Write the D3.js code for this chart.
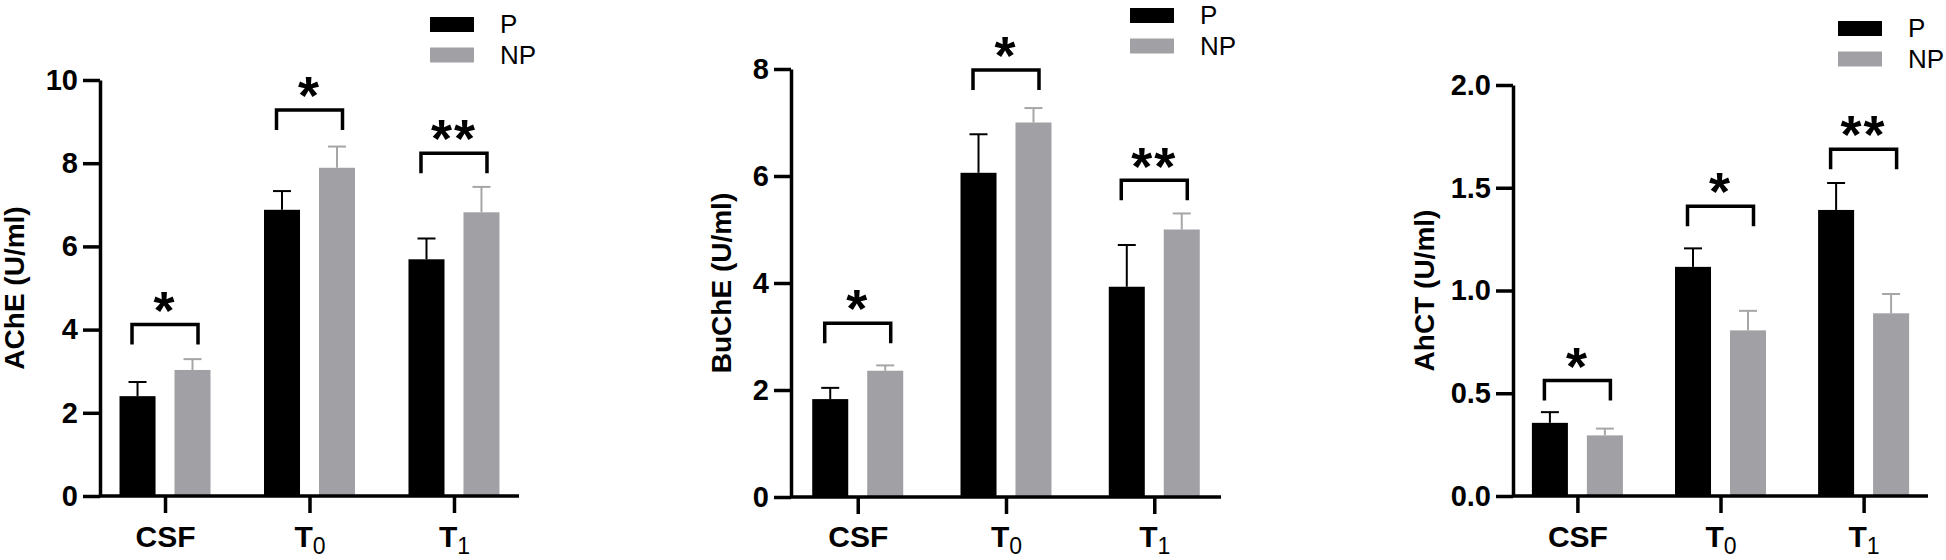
<!DOCTYPE html>
<html>
<head>
<meta charset="utf-8">
<script src="https://cdn.jsdelivr.net/npm/d3@7/dist/d3.min.js"></script>
<style>
  html, body { margin: 0; padding: 0; background: #fff; }
  svg { display: block; }
  text { font-family: "Liberation Sans", Arial, Helvetica, sans-serif; }
</style>
</head>
<body>
<svg id="chart" width="1946" height="560"></svg>
<script>
// ---------------- data ----------------
const categories = ["CSF", "T0", "T1"];
const categoryMain = ["CSF", "T", "T"];
const categorySub = ["", "0", "1"];
const groups = ["P", "NP"];

const acheP = [2.40, 6.88, 5.69];
const acheNP = [3.03, 7.89, 6.82];
const acheSemP = [0.34, 0.45, 0.50];
const acheSemNP = [0.26, 0.51, 0.61];
const acheBracket = [4.12, 9.28, 8.24];

const bucheP = [1.83, 6.06, 3.93];
const bucheNP = [2.36, 7.00, 5.00];
const bucheSemP = [0.21, 0.72, 0.78];
const bucheSemNP = [0.10, 0.27, 0.30];
const bucheBracket = [3.25, 7.98, 5.92];

const ahctP = [0.356, 1.115, 1.392];
const ahctNP = [0.295, 0.806, 0.889];
const ahctSemP = [0.052, 0.090, 0.131];
const ahctSemNP = [0.033, 0.095, 0.094];
const ahctBracket = [0.5625, 1.41, 1.6875];

const stars = ["*", "*", "**"];

const acheTicks = [0, 2, 4, 6, 8, 10];
const bucheTicks = [0, 2, 4, 6, 8];
const ahctTicks = [0, 0.5, 1.0, 1.5, 2.0];

// ---------------- layout ----------------
const colors = { P: "#000000", NP: "#a1a1a5" };
const errColors = { P: "#000000", NP: "#a6a6a9" };

const panels = [
  { title: "AChE (U/ml)", P: acheP, NP: acheNP, semP: acheSemP, semNP: acheSemNP,
    bracket: acheBracket, ticks: acheTicks, fmt: d3.format("d"),
    x0: 100, x1: 519, y0: 496, y1: 80, titleX: 24,
    legX: 430, legY: 33 },
  { title: "BuChE (U/ml)", P: bucheP, NP: bucheNP, semP: bucheSemP, semNP: bucheSemNP,
    bracket: bucheBracket, ticks: bucheTicks, fmt: d3.format("d"),
    x0: 791, x1: 1221, y0: 497, y1: 69, titleX: 731,
    legX: 1130, legY: 24 },
  { title: "AhCT (U/ml)", P: ahctP, NP: ahctNP, semP: ahctSemP, semNP: ahctSemNP,
    bracket: ahctBracket, ticks: ahctTicks, fmt: d3.format(".1f"),
    x0: 1513, x1: 1928, y0: 496, y1: 85, titleX: 1434,
    legX: 1838, legY: 37 }
];

const svg = d3.select("#chart");
svg.append("rect").attr("width", 1946).attr("height", 560).attr("fill", "#fff");

const AXW = 3.5;
const TICK = 17;

panels.forEach(p => {
  const g = svg.append("g");
  const yMax = p.ticks[p.ticks.length - 1];
  const y = d3.scaleLinear().domain([0, yMax]).range([p.y0, p.y1]);
  const x = d3.scalePoint().domain(categories).range([p.x0, p.x1]).padding(0.45);
  const inner = d3.scaleBand().domain(groups).range([-45.5, 45.5]).paddingInner(0.345);

  // bars
  groups.forEach(grp => {
    const vals = grp === "P" ? p.P : p.NP;
    const sems = grp === "P" ? p.semP : p.semNP;
    const cx = (i) => x(categories[i]) + inner(grp) + inner.bandwidth() / 2;
    g.selectAll(null).data(vals).enter().append("rect")
      .attr("x", (d, i) => x(categories[i]) + inner(grp))
      .attr("width", inner.bandwidth())
      .attr("y", d => y(d))
      .attr("height", d => y(0) - y(d))
      .attr("fill", colors[grp]);
    // error bars (upper only)
    g.selectAll(null).data(vals).enter().append("line")
      .attr("x1", (d, i) => cx(i)).attr("x2", (d, i) => cx(i))
      .attr("y1", d => y(d)).attr("y2", (d, i) => y(d + sems[i]))
      .attr("stroke", errColors[grp]).attr("stroke-width", 2);
    g.selectAll(null).data(vals).enter().append("line")
      .attr("x1", (d, i) => cx(i) - 9).attr("x2", (d, i) => cx(i) + 9)
      .attr("y1", (d, i) => y(d + sems[i])).attr("y2", (d, i) => y(d + sems[i]))
      .attr("stroke", errColors[grp]).attr("stroke-width", 2);
  });

  // y axis
  const yAxis = d3.axisLeft(y).tickValues(p.ticks).tickFormat(p.fmt)
    .tickSize(TICK).tickSizeOuter(0).tickPadding(5);
  const ya = g.append("g").attr("transform", `translate(${p.x0},0)`).call(yAxis);
  ya.select(".domain").attr("stroke-width", AXW).attr("stroke", "#000");
  ya.selectAll(".tick line").attr("stroke-width", AXW).attr("stroke", "#000");
  ya.selectAll(".tick text").attr("font-size", 29).attr("font-weight", "bold")
    .attr("fill", "#000").attr("font-family", '"Liberation Sans", Arial, sans-serif');

  // x axis
  const xAxis = d3.axisBottom(x).tickSize(TICK).tickSizeOuter(0).tickFormat("");
  const xa = g.append("g").attr("transform", `translate(0,${y(0)})`).call(xAxis);
  xa.select(".domain").attr("stroke-width", AXW).attr("stroke", "#000")
    .attr("d", `M${p.x0},0H${p.x1}`);
  xa.selectAll(".tick line").attr("stroke-width", AXW).attr("stroke", "#000");
  xa.selectAll(".tick text").remove();
  xa.selectAll(".tick").each(function(d, i) {
    const t = d3.select(this).append("text")
      .attr("y", 547 - y(0)).attr("text-anchor", "middle")
      .attr("fill", "#000").attr("font-family", '"Liberation Sans", Arial, sans-serif');
    t.append("tspan").attr("font-size", 30).attr("font-weight", "bold").text(categoryMain[i]);
    if (categorySub[i]) {
      t.append("tspan").attr("font-size", 23).attr("dy", 7).text(categorySub[i]);
    }
  });

  // y title
  g.append("text")
    .attr("transform", `translate(${p.titleX},${(p.y0 + p.y1) / 2}) rotate(-90)`)
    .attr("text-anchor", "middle").attr("font-size", 28).attr("font-weight", "bold")
    .attr("fill", "#000").text(p.title);

  // significance brackets
  const bw = 33;
  g.selectAll(null).data(p.bracket).enter().append("path")
    .attr("d", (d, i) => {
      const c = x(categories[i]);
      const yb = y(d);
      return `M${c - bw},${yb + 20}V${yb}H${c + bw}V${yb + 20}`;
    })
    .attr("fill", "none").attr("stroke", "#000").attr("stroke-width", 3.5);
  const fs = 54;
  g.selectAll(null).data(p.bracket).enter().append("text")
    .attr("x", (d, i) => x(categories[i]))
    .attr("y", d => y(d) - 26 + 0.56 * fs)
    .attr("text-anchor", "middle").attr("font-size", fs).attr("font-weight", "bold")
    .attr("letter-spacing", 2)
    .attr("fill", "#000").text((d, i) => stars[i]);

  // legend
  groups.forEach((grp, k) => {
    const by = p.legY + k * 30.5;
    g.append("rect").attr("x", p.legX).attr("y", by - 16).attr("width", 44).attr("height", 15)
      .attr("fill", colors[grp]);
    g.append("text").attr("x", p.legX + 70).attr("y", by)
      .attr("font-size", 26).attr("fill", "#000").text(grp);
  });
});
</script>
</body>
</html>
